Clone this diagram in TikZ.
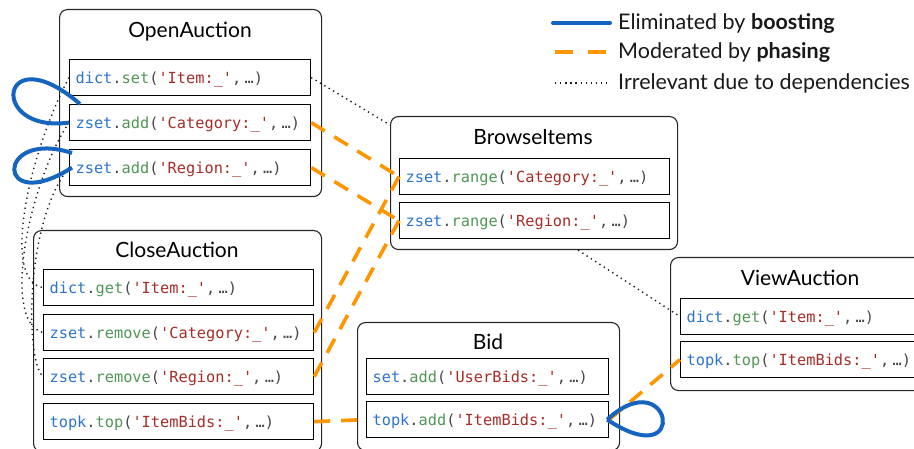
\documentclass[tikz,border=0pt]{standalone}
\usepackage{fontspec}
\setmainfont{Lato}
\setmonofont{DejaVu Sans Mono}
\usetikzlibrary{calc}
\definecolor{boostblue}{RGB}{21,101,192}
\definecolor{phaseorange}{RGB}{255,150,0}
\definecolor{cobj}{RGB}{45,115,205}
\definecolor{cmeth}{RGB}{80,150,85}
\definecolor{cstr}{RGB}{165,45,40}
\definecolor{cpunc}{RGB}{70,70,70}
\newcommand{\op}[3]{\mbox{\fontsize{15.3}{18}\selectfont\ttfamily\textcolor{cobj}{#1}\textcolor{cpunc}{.}\textcolor{cmeth}{#2}\textcolor{cpunc}{(}\textcolor{cstr}{'#3'}\textcolor{cpunc}{,\ …)}}}
\tikzset{
  txbox/.style={draw=black!85, line width=1.1pt, rounded corners=8pt, anchor=north west, inner sep=0pt},
  opbox/.style={draw=black, line width=1.2pt, anchor=north west, minimum height=36pt, inner xsep=6pt, inner ysep=0pt, text height=13.5pt, text depth=2pt, align=left},
  ttl/.style={font=\fontsize{21}{25}\selectfont, anchor=base, inner sep=0pt},
  legtext/.style={font=\fontsize{21.5}{25}\selectfont, anchor=base west, inner sep=0pt, text=black!90},
  boost/.style={draw=boostblue, line width=4pt},
  phase/.style={draw=phaseorange, line width=3.6pt, dash pattern=on 16pt off 11pt},
  dep/.style={draw=black!90, line width=1.4pt, dash pattern=on 1.3pt off 3.8pt},
}
\begin{document}
\begin{tikzpicture}[x=1pt,y=-1pt]
\useasboundingbox (0,0) rectangle (914,449);
\clip (0,0) rectangle (914,449);
% OpenAuction
\node[txbox, minimum width=262pt, minimum height=187pt] (openT) at (59,9) {};
\node[ttl] (openL) at (190,38) {OpenAuction};
\node[opbox, text width=229pt] (oset) at (69,59) {\op{dict}{set}{Item:\_}};
\node[opbox, text width=229pt] (ocat) at (69,104) {\op{zset}{add}{Category:\_}};
\node[opbox, text width=229pt] (oreg) at (69,149) {\op{zset}{add}{Region:\_}};
% CloseAuction
\node[txbox, minimum width=288pt, minimum height=221pt] (closeT) at (33,230) {};
\node[ttl] (closeL) at (177,258) {CloseAuction};
\node[opbox, text width=258pt] (cget) at (43,269) {\op{dict}{get}{Item:\_}};
\node[opbox, text width=258pt] (ccat) at (43,314) {\op{zset}{remove}{Category:\_}};
\node[opbox, text width=258pt] (creg) at (43,358) {\op{zset}{remove}{Region:\_}};
\node[opbox, text width=258pt] (ctop) at (43,403) {\op{topk}{top}{ItemBids:\_}};
% BrowseItems
\node[txbox, minimum width=287pt, minimum height=133pt] (browseT) at (390,116) {};
\node[ttl] (browseL) at (533,145) {BrowseItems};
\node[opbox, text width=258pt] (bcat) at (399,158) {\op{zset}{range}{Category:\_}};
\node[opbox, text width=258pt] (breg) at (399,202) {\op{zset}{range}{Region:\_}};
% Bid
\node[txbox, minimum width=262pt, minimum height=128pt] (bidT) at (357,322) {};
\node[ttl] (bidL) at (488,350) {Bid};
\node[opbox, text width=230pt] (bset) at (366,358) {\op{set}{add}{UserBids:\_}};
\node[opbox, text width=230pt] (badd) at (366,401) {\op{topk}{add}{ItemBids:\_}};
% ViewAuction
\node[txbox, minimum width=261pt, minimum height=133pt] (viewT) at (670,257) {};
\node[ttl] (viewL) at (800,286) {ViewAuction};
\node[opbox, text width=229pt] (vget) at (680,298) {\op{dict}{get}{Item:\_}};
\node[opbox, text width=229pt] (vtop) at (680,341) {\op{topk}{top}{ItemBids:\_}};
% dependency (dotted)
\draw[dep] (oset.east) -- ([yshift=-9pt]browseT.north west);
\draw[dep] ([xshift=44pt]browseT.south) -- (vget.west);
\draw[dep] (oset.west) .. controls +(-39,73) and +(-43,-7) .. (cget.west);
\draw[dep] (ocat.west) .. controls +(-39,58) and +(-43,-12) .. (ccat.west);
\draw[dep] (oreg.west) .. controls +(-44,54) and +(-18,-16) .. (creg.west);
% phasing (orange dashed)
\draw[phase] (ocat.east) -- (bcat.west);
\draw[phase] (oreg.east) -- (breg.west);
\draw[phase] (ccat.east) -- (bcat.west);
\draw[phase] (creg.east) -- (breg.west);
\draw[phase] (ctop.east) -- (badd.west);
\draw[phase] (badd.east) -- (vtop.west);
% boosting (blue loops)
\draw[boost] (ocat.west) .. controls +(-82,11) and +(-80,-69) .. ([xshift=11pt]ocat.north west);
\draw[boost] ([shift={(3pt,-4pt)}]oreg.north west) .. controls +(-77,-25) and +(-77,49) .. ([xshift=3pt]oreg.west);
\draw[boost] ([xshift=-2pt]badd.east) .. controls +(64,-59) and +(84,56) .. ([xshift=-2pt]badd.east);
% legend
\coordinate (lb1) at (553,23); \coordinate (lb2) at (610,23);
\coordinate (lo1) at (555,52); \coordinate (lo2) at (607,52);
\coordinate (ld1) at (555,83); \coordinate (ld2) at (607,83);
\draw[boost, line cap=round] (lb1) -- (lb2);
\draw[phase, dash pattern=on 18pt off 15pt] (lo1) -- (lo2);
\draw[dep] (ld1) -- (ld2);
\node[legtext] (lbt) at (618,30) {Eliminated by \textbf{boosting}};
\node[legtext] (lot) at (618,59) {Moderated by \textbf{phasing}};
\node[legtext] (ldt) at (618,90) {Irrelevant due to dependencies};
\end{tikzpicture}
\end{document}
